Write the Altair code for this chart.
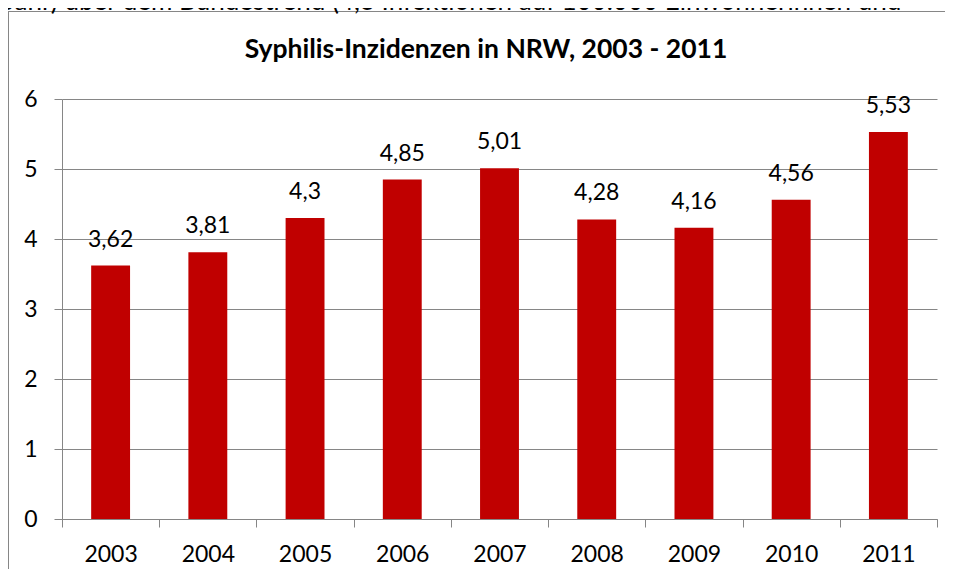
import altair as alt
import pandas as pd

years = ["2003", "2004", "2005", "2006", "2007", "2008", "2009", "2010", "2011"]
values = [3.62, 3.81, 4.3, 4.85, 5.01, 4.28, 4.16, 4.56, 5.53]
labels = ["3,62", "3,81", "4,3", "4,85", "5,01", "4,28", "4,16", "4,56", "5,53"]
title_text = "Syphilis-Inzidenzen in NRW, 2003 - 2011"
top_text = "Jahr) über dem Bundestrend (4,3 Infektionen auf 100.000 Einwohnerinnen und"

df = pd.DataFrame({"year": years, "value": values, "label": labels})

FONT = "Lato"
GREY = "#868686"
RED = "#C00000"

W, H = 875, 420

x_enc = alt.X(
    "year:O",
    sort=years,
    scale=alt.Scale(paddingInner=0, paddingOuter=0),
    axis=alt.Axis(
        title=None,
        labelAngle=0,
        labelFont=FONT,
        labelFontSize=23,
        labelColor="black",
        labelPadding=16,
        tickBand="extent",
        tickSize=8,
        tickColor=GREY,
        domainColor=GREY,
        grid=False,
    ),
)
y_enc = alt.Y(
    "value:Q",
    scale=alt.Scale(domain=[0, 6], nice=False),
    axis=alt.Axis(
        title=None,
        values=[0, 1, 2, 3, 4, 5, 6],
        format="d",
        labelFont=FONT,
        labelFontSize=23,
        labelColor="black",
        labelPadding=17,
        tickSize=8,
        tickColor=GREY,
        domainColor=GREY,
        gridColor=GREY,
        gridOpacity=1,
        gridWidth=1,
    ),
)

base = alt.Chart(df)

frame_left = base.mark_rule(color=GREY, strokeWidth=1).encode(
    x=alt.value(-53.5), y=alt.value(-87.5), y2=alt.value(470)
)
frame_top = base.mark_rule(color=GREY, strokeWidth=1).encode(
    x=alt.value(-53.5), x2=alt.value(883), y=alt.value(-87.5)
)

bars = base.mark_bar(color=RED, width=alt.RelativeBandSize(0.4)).encode(x=x_enc, y=y_enc)

text = base.mark_text(
    font=FONT, fontSize=23, color="black", baseline="alphabetic", dy=-19
).encode(x=alt.X("year:O", sort=years), y="value:Q", text="label:N")

title = alt.Chart(pd.DataFrame({"t": [title_text]})).mark_text(
    font=FONT, fontSize=26.5, fontWeight="bold", color="black", baseline="alphabetic", align="center"
).encode(x=alt.value(424), y=alt.value(-41), text="t:N")

top = alt.Chart(pd.DataFrame({"t": [top_text]})).mark_text(
    font=FONT, fontSize=26, color="black", baseline="alphabetic", align="left"
).encode(x=alt.value(-58), y=alt.value(-89), text="t:N")

chart = (
    alt.layer(frame_left, frame_top, bars, text, title, top)
    .properties(
        width=W,
        height=H,
        autosize=alt.AutoSizeParams(type="none"),
        padding={"left": 54, "top": 91, "right": 8, "bottom": 50},
    )
    .configure_view(stroke=None)
)

chart.save("out.html", embed_options={"renderer": "svg", "actions": False})
